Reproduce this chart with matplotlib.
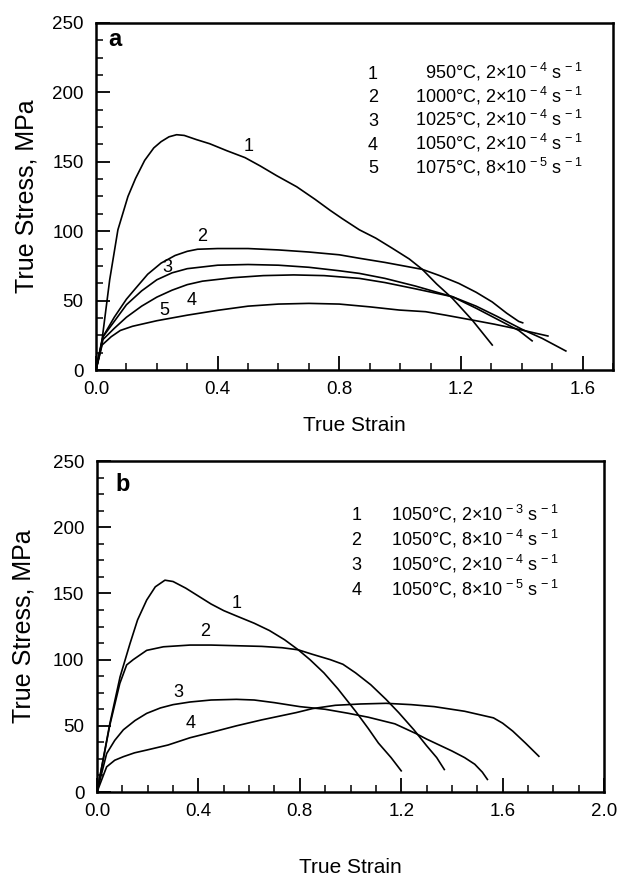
import matplotlib
matplotlib.use("Agg")
import matplotlib.pyplot as plt
from matplotlib.ticker import MultipleLocator

plt.rcParams['font.family'] = ['Liberation Sans', 'DejaVu Sans']
plt.rcParams['mathtext.fontset'] = 'custom'
plt.rcParams['mathtext.rm'] = 'Liberation Sans'
plt.rcParams['mathtext.it'] = 'Liberation Sans'

# ---- panel a : different temperatures ----
a1_x = [0, 0.02, 0.045, 0.072, 0.105, 0.13, 0.16, 0.19, 0.214, 0.24, 0.265, 0.29, 0.33, 0.374,
        0.43, 0.49, 0.54, 0.594, 0.66, 0.72, 0.77, 0.81, 0.866, 0.92, 0.975, 1.03, 1.073, 1.12,
        1.172, 1.237, 1.27, 1.303]
a1_y = [0, 22, 65, 101, 125, 138, 151, 160, 164.5, 168, 169.5, 169, 166, 163,
        158, 153, 147, 140, 132, 123, 115, 109, 101, 95, 87.6, 80, 72.5, 62,
        51.6, 36, 27, 18]

a2_x = [0, 0.023, 0.06, 0.1, 0.127, 0.17, 0.214, 0.26, 0.3, 0.334, 0.4, 0.5, 0.6, 0.7, 0.8,
        0.866, 0.95, 1.073, 1.13, 1.193, 1.25, 1.303, 1.35, 1.39, 1.403]
a2_y = [0, 24, 38, 51, 58, 69, 77, 82.5, 85.5, 87, 87.5, 87.5, 86.5, 85, 83,
        80.5, 77.5, 72.5, 68, 62.4, 56, 49, 41, 35, 34]

a3_x = [0, 0.023, 0.06, 0.1, 0.15, 0.2, 0.25, 0.3, 0.4, 0.5, 0.6, 0.7, 0.8, 0.866, 0.95,
        1.05, 1.172, 1.25, 1.32, 1.39, 1.434]
a3_y = [0, 24, 35, 47, 57, 65, 70, 73, 75.5, 76, 75.5, 74, 71.5, 69.6, 66,
        60.5, 52.8, 44.5, 36.5, 28.5, 21]

a4_x = [0, 0.023, 0.06, 0.1, 0.15, 0.2, 0.25, 0.3, 0.35, 0.45, 0.55, 0.65, 0.75, 0.866,
        0.95, 1.05, 1.172, 1.25, 1.32, 1.401, 1.467, 1.545]
a4_y = [0, 22, 30, 38, 46, 52.5, 57.5, 61.5, 64, 66.5, 68, 68.5, 68, 66,
        63, 58.5, 52.8, 46, 38.5, 29.3, 22.8, 13.7]

a5_x = [0, 0.02, 0.05, 0.08, 0.12, 0.2, 0.3, 0.4, 0.5, 0.6, 0.7, 0.8, 0.9, 0.997, 1.084,
        1.15, 1.237, 1.31, 1.39, 1.486]
a5_y = [0, 18, 24, 28.5, 31.5, 35.5, 39.5, 43, 46, 47.5, 48, 47.5, 45.5, 43.2, 42,
        39.5, 36, 33, 29.3, 24.5]

a_labels = ['1', '2', '3', '4', '5']
a_label_x = [0.503, 0.348, 0.235, 0.315, 0.224]
a_label_y = [161, 96, 74, 50, 43]
a_temps = ['950°C', '1000°C', '1025°C', '1050°C', '1075°C']
a_rates = ['2', '2', '2', '2', '8']
a_exps = ['-4', '-4', '-4', '-4', '-5']
a_rows = [210, 192.9, 175.8, 158.7, 141.6]

# ---- panel b : different strain rates at 1050 C ----
b1_x = [0, 0.051, 0.091, 0.13, 0.16, 0.196, 0.23, 0.268, 0.30, 0.35, 0.40, 0.45, 0.50, 0.55,
        0.62, 0.68, 0.74, 0.794, 0.84, 0.895, 0.95, 1.02, 1.07, 1.11, 1.16, 1.20]
b1_y = [0, 52, 87, 112, 130, 145, 155, 160, 159, 154, 148, 142, 137, 133,
        127.5, 122, 115, 107.4, 100, 90, 78, 61, 48, 37, 26, 16]

b2_x = [0, 0.05, 0.09, 0.117, 0.143, 0.196, 0.262, 0.367, 0.45, 0.55, 0.65, 0.73, 0.794,
        0.85, 0.92, 0.97, 1.02, 1.08, 1.14, 1.19, 1.25, 1.30, 1.34, 1.37]
b2_y = [0, 50, 82, 96, 100, 107, 109.7, 111, 111, 110.5, 110, 109, 107.4,
        104, 100, 96.5, 90, 81, 70, 60, 47, 35, 26, 17]

b3_x = [0, 0.038, 0.07, 0.104, 0.15, 0.196, 0.25, 0.30, 0.367, 0.45, 0.55, 0.62, 0.70,
        0.80, 0.90, 0.99, 1.07, 1.175, 1.26, 1.30, 1.40, 1.45, 1.49, 1.52, 1.54]
b3_y = [0, 29, 39, 47, 54, 59.4, 63.5, 66, 68, 69.5, 70, 69.5, 67.5,
        64.5, 62.5, 59.5, 56.5, 51.5, 44, 40, 31, 26, 21, 15, 9.5]

b4_x = [0, 0.038, 0.07, 0.104, 0.148, 0.196, 0.28, 0.367, 0.45, 0.55, 0.65, 0.786, 0.85,
        0.94, 1.04, 1.14, 1.24, 1.33, 1.45, 1.564, 1.60, 1.64, 1.69, 1.743]
b4_y = [0, 19, 24, 26.7, 29.6, 31.7, 35.5, 41, 45, 50, 54.5, 60, 63,
        65.5, 66.5, 67, 66, 64.5, 61, 56, 52, 46, 37, 27]

b_labels = ['1', '2', '3', '4']
b_label_x = [0.55, 0.428, 0.322, 0.369]
b_label_y = [142.6, 121, 74.8, 52]
b_temps = ['1050°C', '1050°C', '1050°C', '1050°C']
b_rates = ['2', '8', '2', '8']
b_exps = ['-3', '-4', '-4', '-5']
b_rows = [205.4, 186.5, 167.6, 148.7]

y_ticks = [0, 50, 100, 150, 200, 250]


def style_axes(ax, xmax, xticks):
    ax.set_xlim(0, xmax)
    ax.set_ylim(0, 250)
    ax.set_xticks(xticks)
    ax.set_xticklabels([f"{t:.1f}" for t in xticks])
    ax.set_yticks(y_ticks)
    ax.xaxis.set_minor_locator(MultipleLocator(0.1))
    ax.yaxis.set_minor_locator(MultipleLocator(12.5))
    ax.tick_params(which='both', direction='in', top=False, right=False, labelsize=13.5)
    ax.tick_params(which='major', length=10, width=1.3)
    ax.tick_params(which='minor', length=5, width=1.1)
    ax.tick_params(axis='y', pad=9)
    ax.tick_params(axis='x', pad=8)
    for sp in ax.spines.values():
        sp.set_linewidth(1.8)
    ax.set_ylabel("True Stress, MPa", fontsize=18)


def legend_rows(ax, nums, temps, rates, exps, rows, xnum, xtext):
    for n, t, r, e, y in zip(nums, temps, rates, exps, rows):
        ax.text(xnum, y, n, fontsize=13, ha='center', va='baseline')
        ax.text(xtext, y, t + ", " + r + r"$\times$" + "10" + r"$^{\,-" + e[1:] + r"}$"
                + " s" + r"$^{\,-1}$", fontsize=13, ha='right', va='baseline')


fig = plt.figure(figsize=(6.19, 8.77), dpi=100)

ax_a = fig.add_axes([0.1551, 0.5781, 0.8352, 0.3957])
for xs, ys in [(a1_x, a1_y), (a2_x, a2_y), (a3_x, a3_y), (a4_x, a4_y), (a5_x, a5_y)]:
    ax_a.plot(xs, ys, color='black', lw=1.2)
for lab, lx, ly in zip(a_labels, a_label_x, a_label_y):
    ax_a.text(lx, ly, lab, fontsize=13, ha='center', va='center')
style_axes(ax_a, 1.7, [0.0, 0.4, 0.8, 1.2, 1.6])
ax_a.set_xlabel("True Strain", fontsize=15, labelpad=13)
ax_a.yaxis.set_label_coords(-0.112, 0.5)
ax_a.text(0.037, 0.952, "a", transform=ax_a.transAxes, fontsize=17, fontweight='bold',
          ha='center', va='center')
legend_rows(ax_a, a_labels, a_temps, a_rates, a_exps, a_rows, 0.911, 1.60)

ax_b = fig.add_axes([0.1567, 0.0969, 0.8191, 0.3774])
for xs, ys in [(b1_x, b1_y), (b2_x, b2_y), (b3_x, b3_y), (b4_x, b4_y)]:
    ax_b.plot(xs, ys, color='black', lw=1.2)
for lab, lx, ly in zip(b_labels, b_label_x, b_label_y):
    ax_b.text(lx, ly, lab, fontsize=13, ha='center', va='center')
style_axes(ax_b, 2.0, [0.0, 0.4, 0.8, 1.2, 1.6, 2.0])
ax_b.set_xlabel("True Strain", fontsize=15, labelpad=27)
ax_b.yaxis.set_label_coords(-0.122, 0.5)
ax_b.text(0.05, 0.93, "b", transform=ax_b.transAxes, fontsize=17, fontweight='bold',
          ha='center', va='center')
legend_rows(ax_b, b_labels, b_temps, b_rates, b_exps, b_rows, 1.023, 1.82)

fig.savefig("out.png", dpi=100)
